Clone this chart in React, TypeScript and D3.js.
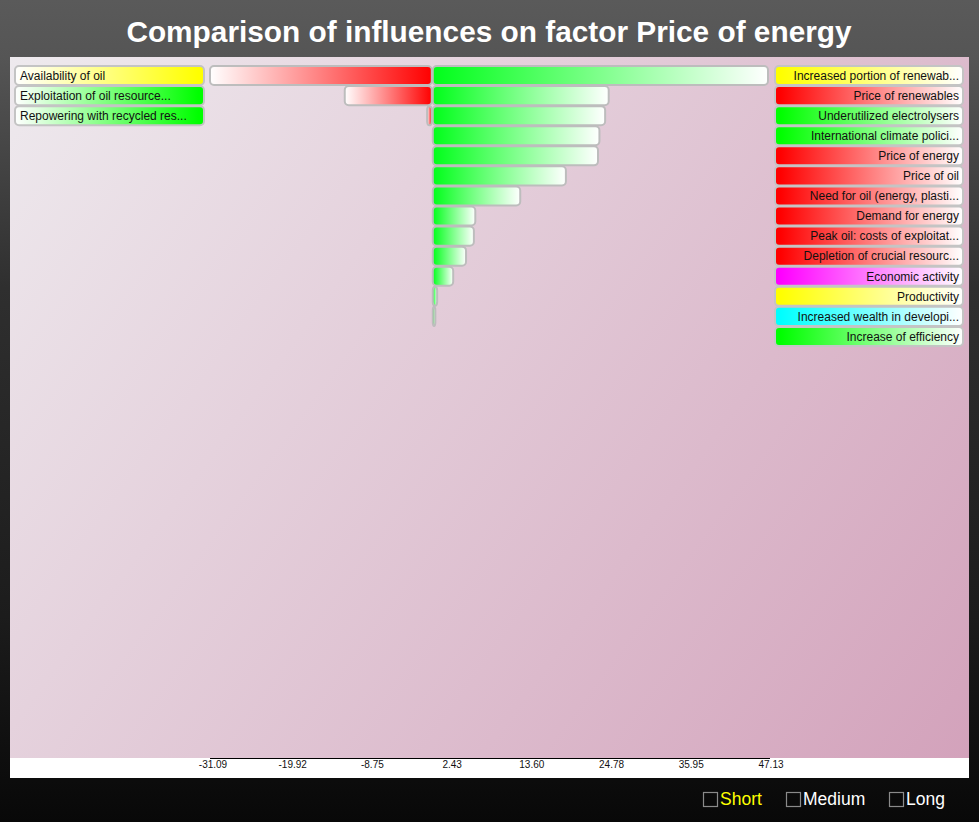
import React from "react";
import * as d3 from "d3";

const W = 979;
const H = 822;

const title = "Comparison of influences on factor Price of energy";

const rightLabels = [
  "Increased portion of renewab...",
  "Price of renewables",
  "Underutilized electrolysers",
  "International climate polici...",
  "Price of energy",
  "Price of oil",
  "Need for oil (energy, plasti...",
  "Demand for energy",
  "Peak oil: costs of exploitat...",
  "Depletion of crucial resourc...",
  "Economic activity",
  "Productivity",
  "Increased wealth in developi...",
  "Increase of efficiency",
];
const rightColors = [
  "#ffff00", "#ff0000", "#00ff00", "#00ff00", "#ff0000", "#ff0000", "#ff0000",
  "#ff0000", "#ff0000", "#ff0000", "#ff00ff", "#ffff00", "#00ffff", "#00ff00",
];
const leftLabels = [
  "Availability of oil",
  "Exploitation of oil resource...",
  "Repowering with recycled res...",
];
const leftColors = ["#ffff00", "#00ff00", "#00ff00"];

const positiveValues = [47.13, 24.8, 24.3, 23.5, 23.3, 18.8, 12.4, 6.1, 5.9, 4.8, 3.0, 0.75, 0.5, 0];
const negativeValues = [-31.09, -12.2, -0.65, 0, 0, 0, 0, 0, 0, 0, 0, 0, 0, 0];

const tickValues = [-31.09, -19.92, -8.75, 2.43, 13.6, 24.78, 35.95, 47.13];
const tickLabels = ["-31.09", "-19.92", "-8.75", "2.43", "13.60", "24.78", "35.95", "47.13"];

const modes = ["Short", "Medium", "Long"];

export default function App() {
  const x = d3.scaleLinear().domain([tickValues[0], tickValues[tickValues.length - 1]]).range([210, 768]);
  const y = d3.scaleBand<number>().domain(d3.range(rightLabels.length)).range([66, 66 + 20 * rightLabels.length]).paddingInner(0.05).paddingOuter(0);
  const font = "'Liberation Sans', Arial, Helvetica, sans-serif";
  const x0 = x(0);
  const modeX = [703, 786, 889];

  return (
    <div style={{ position: "absolute", left: 0, top: 0, width: W, height: H }}>
      <svg width={W} height={H} style={{ display: "block" }} fontFamily={font}>
        <defs>
          <linearGradient id="pageBg" x1="0" y1="0" x2="0" y2="1">
            <stop offset="0" stopColor="#5a5a5a" />
            <stop offset="0.07" stopColor="#555555" />
            <stop offset="0.35" stopColor="#2f2f2f" />
            <stop offset="0.75" stopColor="#1c1c1c" />
            <stop offset="1" stopColor="#080808" />
          </linearGradient>
          <linearGradient id="plotBg" gradientUnits="userSpaceOnUse" x1="10" y1="57" x2="969" y2="758">
            <stop offset="0" stopColor="#eeeaee" />
            <stop offset="1" stopColor="#d3a2bb" />
          </linearGradient>
          <linearGradient id="negGrad" x1="0" y1="0" x2="1" y2="0">
            <stop offset="0" stopColor="#ffffff" />
            <stop offset="1" stopColor="#ff0000" />
          </linearGradient>
          <linearGradient id="posGrad" x1="0" y1="0" x2="1" y2="0">
            <stop offset="0" stopColor="#00ff1a" />
            <stop offset="1" stopColor="#ffffff" />
          </linearGradient>
          {rightColors.map((c, i) => (
            <linearGradient key={"r" + i} id={"rg" + i} x1="0" y1="0" x2="1" y2="0">
              <stop offset="0.03" stopColor={c} />
              <stop offset="1" stopColor="#ffffff" />
            </linearGradient>
          ))}
          {leftColors.map((c, i) => (
            <linearGradient key={"l" + i} id={"lg" + i} x1="0" y1="0" x2="1" y2="0">
              <stop offset="0" stopColor="#ffffff" />
              <stop offset="0.97" stopColor={c} />
            </linearGradient>
          ))}
        </defs>
        <rect x={0} y={0} width={W} height={H} fill="url(#pageBg)" />
        <text x={489} y={42} textAnchor="middle" fill="#ffffff" fontWeight="bold" fontSize={29.8}>
          {title}
        </text>
        <rect x={10} y={57} width={959} height={701} fill="url(#plotBg)" />
        <rect x={10} y={758} width={959} height={20} fill="#ffffff" />

        {/* bars */}
        {negativeValues.map((v, i) => (
          <rect
            key={"n" + i}
            x={x(v)}
            y={y(i)!}
            width={x0 - x(v)}
            height={y.bandwidth()}
            rx={4}
            fill="url(#negGrad)"
            stroke="#bdbdbd"
            strokeWidth={2}
          />
        ))}
        {positiveValues.map((v, i) => (
          <rect
            key={"p" + i}
            x={x0 + 1}
            y={y(i)!}
            width={Math.max(0, x(v) - x0 - 1)}
            height={y.bandwidth()}
            rx={4}
            fill="url(#posGrad)"
            stroke="#bdbdbd"
            strokeWidth={2}
          />
        ))}

        {/* left labels */}
        {leftLabels.map((t, i) => (
          <g key={"ll" + i}>
            <rect x={15} y={y(i)!} width={189} height={y.bandwidth()} rx={4} fill={`url(#lg${i})`} stroke="#c4c4c4" strokeWidth={2} />
            <text x={20} y={y(i)! + y.bandwidth() / 2 + 4.3} fontSize={12} fill="#111">
              {t}
            </text>
          </g>
        ))}
        {/* right labels */}
        {rightLabels.map((t, i) => (
          <g key={"rl" + i}>
            <rect x={775} y={y(i)!} width={188} height={y.bandwidth()} rx={4} fill={`url(#rg${i})`} stroke="#c4c4c4" strokeWidth={2} />
            <text x={959} y={y(i)! + y.bandwidth() / 2 + 4.3} fontSize={12} fill="#111" textAnchor="end">
              {t}
            </text>
          </g>
        ))}

        {/* axis */}
        <line x1={x(tickValues[0])} x2={x(tickValues[tickValues.length - 1]) + 2} y1={758.5} y2={758.5} stroke="#000" strokeWidth={1} />
        {tickValues.map((t, i) => (
          <text key={"t" + i} x={x(t) + 3} y={768} fontSize={10} textAnchor="middle" fill="#111">
            {tickLabels[i]}
          </text>
        ))}

        {/* mode toggles */}
        {modes.map((m, i) => (
          <g key={m}>
            <rect x={modeX[i] + 0.5} y={792.5} width={14} height={14} fill="none" stroke="#8a8a8a" strokeWidth={1.2} />
            <text x={modeX[i] + 17} y={805} fontSize={17.5} fill={i === 0 ? "#ffff00" : "#ffffff"}>
              {m}
            </text>
          </g>
        ))}
      </svg>
    </div>
  );
}
